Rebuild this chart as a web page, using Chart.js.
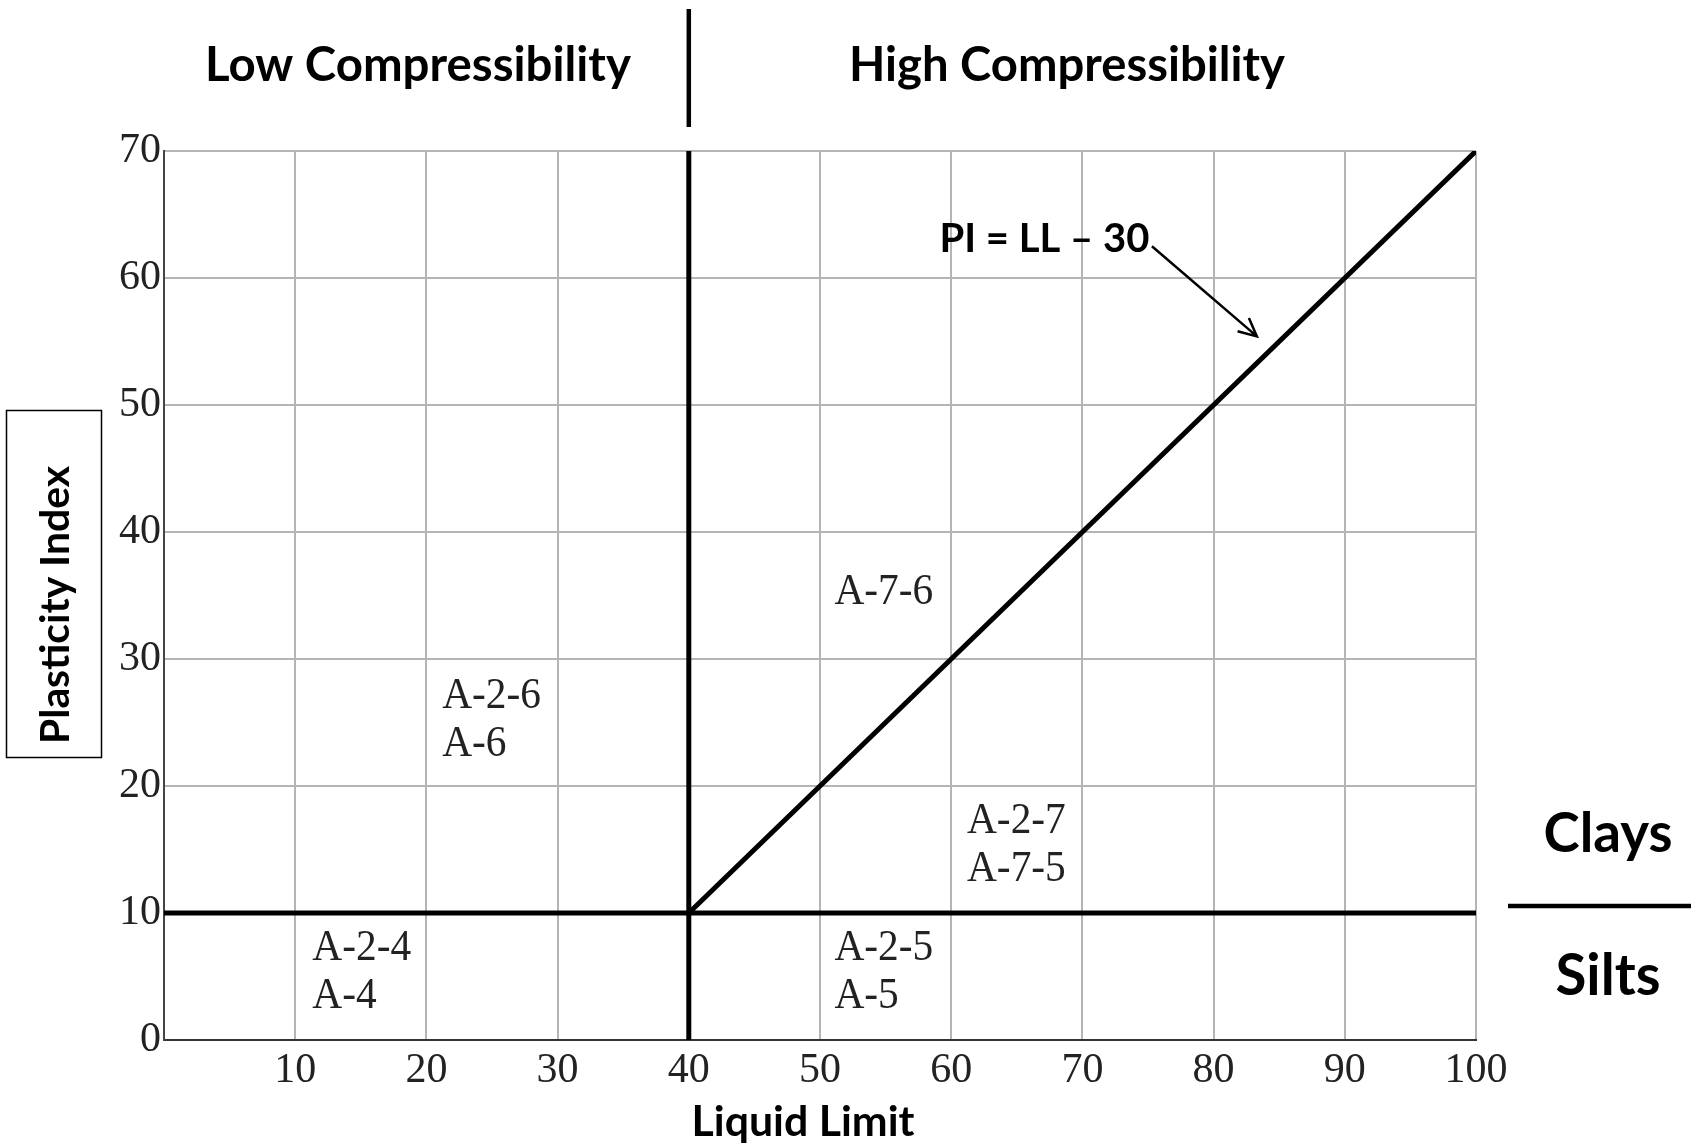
<!DOCTYPE html>
<html>
<head>
<meta charset="utf-8">
<script src="https://cdn.jsdelivr.net/npm/chart.js@4.4.1/dist/chart.umd.min.js"></script>
<style>
html,body{margin:0;padding:0;background:#fff;}
#wrap{width:1691px;height:1145px;position:relative;}
</style>
</head>
<body>
<div id="wrap"><canvas id="c" width="1691" height="1145"></canvas></div>
<script>
// ---- data ----
const boundaryLL = [0, 100];      // PI = 10 silt/clay boundary
const boundaryPI = [10, 10];
const dividerLL = [40, 40];       // LL = 40 low/high compressibility
const dividerPI = [0, 70];
const aLineLL = [40, 100];        // PI = LL - 30
const aLinePI = [10, 70];
const xTickValues = [0, 10, 20, 30, 40, 50, 60, 70, 80, 90, 100];
const yTickValues = [0, 10, 20, 30, 40, 50, 60, 70];
const zoneTop = ['A-2-6', 'A-7-6', 'A-2-7', 'A-2-4', 'A-2-5'];
const zoneBottom = ['A-6', '', 'A-7-5', 'A-4', 'A-5'];
const zoneLL = [21.2, 51.1, 61.2, 11.3, 51.1];
const zonePI = [27.1, 35.3, 17.2, 7.2, 7.2];
const eqLabel = 'PI = LL \u2013 30';
const eqLL = 59.1, eqPI = 63.1;
const arrowLL = [75.3, 83.3];
const arrowPI = [62.5, 55.4];
const xTitle = 'Liquid Limit';
const yTitle = 'Plasticity Index';
const lowLabel = 'Low Compressibility';
const highLabel = 'High Compressibility';
const claysLabel = 'Clays';
const siltsLabel = 'Silts';

const toPts = (xs, ys) => xs.map((x, i) => ({x: x, y: ys[i]}));

function fitFont(ctx, text, width, weight, family) {
  ctx.font = weight + ' 100px ' + family;
  const w = ctx.measureText(text).width;
  return weight + ' ' + (100 * width / w).toFixed(2) + 'px ' + family;
}

const decor = {
  id: 'decor',
  afterDraw(chart) {
    const ctx = chart.ctx;
    const xs = chart.scales.x, ys = chart.scales.y;
    const sans = 'Lato, "Open Sans", sans-serif';
    ctx.save();
    ctx.fillStyle = '#000';
    ctx.strokeStyle = '#000';
    ctx.textBaseline = 'middle';
    ctx.textAlign = 'center';

    // top labels
    ctx.font = fitFont(ctx, lowLabel, 426, 'bold', sans);
    ctx.fillText(lowLabel, 418, 66);
    ctx.font = fitFont(ctx, highLabel, 436, 'bold', sans);
    ctx.fillText(highLabel, 1067, 66);

    // separator above plot at LL = 40
    const xd = xs.getPixelForValue(dividerLL[0]);
    ctx.lineWidth = 4.5;
    ctx.beginPath();
    ctx.moveTo(xd, 9);
    ctx.lineTo(xd, 127);
    ctx.stroke();

    // x title
    ctx.font = fitFont(ctx, xTitle, 223, 'bold', sans);
    ctx.fillText(xTitle, 803, 1122);

    // y title with box
    ctx.lineWidth = 1.5;
    ctx.strokeRect(6.5, 410.5, 95, 347);
    ctx.save();
    ctx.translate(56, 605);
    ctx.rotate(-Math.PI / 2);
    ctx.font = fitFont(ctx, yTitle, 278, 'bold', sans);
    ctx.fillText(yTitle, 0, 0);
    ctx.restore();

    // clays / silts
    const y10 = ys.getPixelForValue(boundaryPI[0]);
    ctx.font = fitFont(ctx, claysLabel, 129, 'bold', sans);
    ctx.fillText(claysLabel, 1608, 834);
    ctx.font = fitFont(ctx, siltsLabel, 105, 'bold', sans);
    ctx.fillText(siltsLabel, 1608, 977);
    ctx.lineWidth = 4.5;
    ctx.beginPath();
    ctx.moveTo(1508, y10 - 7);
    ctx.lineTo(1691, y10 - 7);
    ctx.stroke();

    // equation label
    ctx.textAlign = 'left';
    ctx.font = fitFont(ctx, eqLabel, 210, 'bold', sans);
    ctx.fillText(eqLabel, xs.getPixelForValue(eqLL), ys.getPixelForValue(eqPI));

    // arrow
    const ax0 = xs.getPixelForValue(arrowLL[0]), ay0 = ys.getPixelForValue(arrowPI[0]);
    const ax1 = xs.getPixelForValue(arrowLL[1]), ay1 = ys.getPixelForValue(arrowPI[1]);
    ctx.lineWidth = 2.5;
    ctx.beginPath();
    ctx.moveTo(ax0, ay0);
    ctx.lineTo(ax1, ay1);
    const ang = Math.atan2(ay1 - ay0, ax1 - ax0);
    const hl = 20;
    ctx.moveTo(ax1 - hl * Math.cos(ang - 0.45), ay1 - hl * Math.sin(ang - 0.45));
    ctx.lineTo(ax1, ay1);
    ctx.lineTo(ax1 - hl * Math.cos(ang + 0.45), ay1 - hl * Math.sin(ang + 0.45));
    ctx.stroke();

    // zone labels (serif, slightly condensed)
    ctx.fillStyle = '#222';
    ctx.font = '45px "Liberation Serif", "Times New Roman", serif';
    for (let i = 0; i < zoneTop.length; i++) {
      const px = xs.getPixelForValue(zoneLL[i]);
      const py = ys.getPixelForValue(zonePI[i]);
      ctx.save();
      ctx.translate(px, py);
      ctx.scale(0.92, 1);
      ctx.fillText(zoneTop[i], 0, 0);
      if (zoneBottom[i]) ctx.fillText(zoneBottom[i], 0, 48);
      ctx.restore();
    }
    ctx.restore();
  }
};

const lineStyle = {showLine: true, pointRadius: 0, borderColor: '#000', borderWidth: 5, borderCapStyle: 'butt', fill: false};

new Chart(document.getElementById('c'), {
  type: 'scatter',
  data: {
    datasets: [
      Object.assign({data: toPts(boundaryLL, boundaryPI)}, lineStyle),
      Object.assign({data: toPts(dividerLL, dividerPI)}, lineStyle),
      Object.assign({data: toPts(aLineLL, aLinePI)}, lineStyle)
    ]
  },
  options: {
    responsive: false,
    animation: false,
    events: [],
    layout: {padding: {top: 151, right: 215, left: 0, bottom: 0}},
    plugins: {legend: {display: false}, tooltip: {enabled: false}},
    scales: {
      x: {
        type: 'linear', min: 0, max: 100,
        afterBuildTicks: s => { s.ticks = xTickValues.map(v => ({value: v})); },
        afterFit: s => { s.height = 105; },
        ticks: {
          callback: v => (v === 0 ? '' : String(v)),
          font: {family: '"Liberation Serif", serif', size: 42},
          color: '#222', padding: 6, maxRotation: 0, autoSkip: false
        },
        grid: {color: '#b5b5b5', lineWidth: 2, drawTicks: false},
        border: {color: '#333', width: 2}
      },
      y: {
        type: 'linear', min: 0, max: 70,
        afterBuildTicks: s => { s.ticks = yTickValues.map(v => ({value: v})); },
        afterFit: s => { s.width = 164; },
        ticks: {
          font: {family: '"Liberation Serif", serif', size: 42},
          color: '#222', padding: 3, autoSkip: false
        },
        grid: {color: '#b5b5b5', lineWidth: 2, drawTicks: false},
        border: {color: '#444', width: 2}
      }
    }
  },
  plugins: [decor]
});
</script>
</body>
</html>
